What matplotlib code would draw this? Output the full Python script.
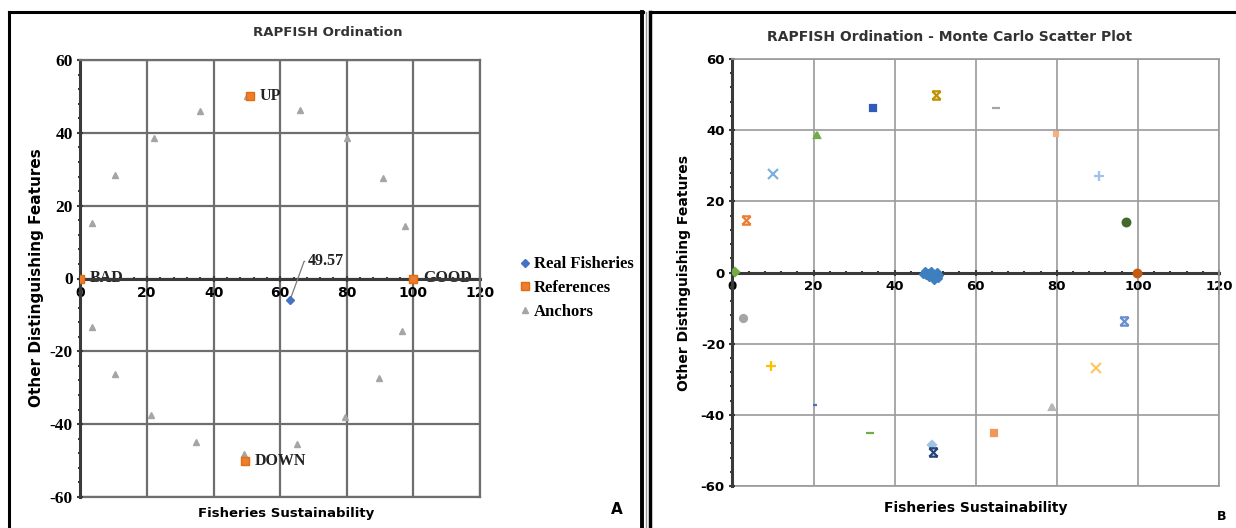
import matplotlib
matplotlib.use("Agg")
import matplotlib.pyplot as plt
from matplotlib.lines import Line2D
from matplotlib.path import Path
from matplotlib.ticker import MultipleLocator

plt.rcParams["axes.unicode_minus"] = False

# ---- Panel A data ----
anchor_x = [36, 66, 22, 80, 10.5, 91, 3.5, 97.5, 3.5, 96.7, 10.3, 89.7, 21.2, 79.5, 34.7, 65, 49.2, 0, 100, 50]
anchor_y = [46, 46.3, 38.5, 38.5, 28.3, 27.5, 15.3, 14.3, -13.4, -14.3, -26.3, -27.2, -37.6, -37.9, -45, -45.5, -48.3, 0, 0, 50]
ref_x = [0, 100, 51, 49.5]
ref_y = [0, 0, 50, -50]
ref_labels = ["BAD", "GOOD", "UP", "DOWN"]
real_x = [63]
real_y = [-5.8]
real_label = "49.57"

# ---- Panel B data (Monte Carlo scatter) ----
cluster_x = [47, 47.8, 48.5, 49, 49.5, 50, 50.5, 51, 48.2, 49.8, 47.5, 50.6]
cluster_y = [-0.5, -0.8, -1.2, 0.3, -0.4, -1.5, 0.2, -0.8, 0, -2, 0.4, -1.6]
mc_x = [0.7, 3.3, 10.0, 20.8, 34.7, 50.3, 65.1, 79.7, 90.4, 97.0, 99.8,
        96.5, 89.7, 78.9, 64.5, 49.1, 49.5, 34.0, 20.3, 9.4, 2.7]
mc_y = [0.2, 14.8, 27.7, 38.6, 46.3, 49.9, 46.3, 38.8, 27.2, 14.3, 0.0,
        -13.6, -26.7, -37.8, -45.0, -48.5, -50.4, -45.0, -37.1, -26.2, -12.8]
mc_colors = ["#70AD47", "#ED7D31", "#7CAFDD", "#70AD47", "#2F5CB8", "#BF9000",
             "#A5A5A5", "#F4B183", "#9DC3E6", "#43682B", "#C55A11",
             "#698ED0", "#FFC866", "#B7B7B7", "#F1975A", "#9DC3E6", "#264478",
             "#70AD47", "#4472C4", "#FFC000", "#A5A5A5"]
mc_markers = ["D", "hour", "x", "^", "s", "hour", "_", "s", "+", "o", "o",
              "hour", "x", "^", "s", "D", "hour", "_", "_", "+", "o"]
mc_sizes = [4, 6, 6.5, 5, 5, 6, 6, 2.5, 6.5, 5.5, 5.5, 6, 7, 4, 5, 4, 6, 6, 3.5, 7, 5]

xticks = [0, 20, 40, 60, 80, 100, 120]
yticks = [-60, -40, -20, 0, 20, 40, 60]

# hourglass-like marker (Excel "star" at small size)
hourglass = Path([(-1, -1), (1, 1), (-1, 1), (1, -1), (-1, 1), (1, 1), (-1, -1), (1, -1)],
                 [Path.MOVETO, Path.LINETO, Path.MOVETO, Path.LINETO,
                  Path.MOVETO, Path.LINETO, Path.MOVETO, Path.LINETO])

W, H = 1236, 528
fig = plt.figure(figsize=(W / 100, H / 100), dpi=100)


def fx(px):
    return px / W


def fy(py):
    return 1 - py / H


def style_axes(ax, grid_col, grid_lw, yfont, yfs, xfont, xfs):
    ax.set_xlim(0, 120)
    ax.set_ylim(-60, 60)
    ax.set_xticks(xticks)
    ax.set_yticks(yticks)
    ax.xaxis.set_minor_locator(MultipleLocator(4))
    ax.yaxis.set_minor_locator(MultipleLocator(4))
    ax.grid(True, which="major", color=grid_col, lw=grid_lw, zorder=0)
    ax.set_axisbelow(True)
    ax.spines["bottom"].set_position(("data", 0))
    for s in ["bottom", "left"]:
        ax.spines[s].set_color("#3a3a3a")
        ax.spines[s].set_linewidth(2.2)
        ax.spines[s].set_zorder(2)
    for s in ["top", "right"]:
        ax.spines[s].set_color(grid_col)
        ax.spines[s].set_linewidth(grid_lw)
    ax.axhline(-60, color=grid_col, lw=grid_lw, clip_on=False, zorder=0)
    ax.tick_params(which="major", direction="inout", length=5, width=1.5, color="#3a3a3a", pad=3)
    ax.tick_params(which="minor", direction="inout", length=3, width=1.5, color="#3a3a3a")
    for lab in ax.get_yticklabels():
        lab.set_fontfamily(yfont)
        lab.set_fontweight("bold")
        lab.set_fontsize(yfs)
    for lab in ax.get_xticklabels():
        lab.set_fontfamily(xfont)
        lab.set_fontweight("bold")
        lab.set_fontsize(xfs)


# ---------------- Panel A ----------------
axA = fig.add_axes([fx(80.4), fy(497), fx(480 - 80.4), (497 - 60) / H])
style_axes(axA, "#6e6e6e", 1.6, "Liberation Serif", 12.5, "DejaVu Sans", 10)

axA.plot(anchor_x, anchor_y, ls="none", marker="^", ms=5, color="#A5A5A5", label="Anchors", zorder=3)
axA.plot(ref_x, ref_y, ls="none", marker="s", ms=6, mfc="#ED7D31", mec="#E46C0A", label="References", zorder=4)
axA.plot(real_x, real_y, ls="none", marker="D", ms=4, color="#4472C4", label="Real Fisheries", zorder=5)

for x, y, t in zip(ref_x, ref_y, ref_labels):
    axA.annotate(t, (x, y), xytext=(7, 0), textcoords="offset points", ha="left", va="center",
                 fontsize=11.5, fontfamily="Liberation Serif", fontweight="bold", color="#222222", zorder=1)
axA.annotate(real_label, (real_x[0], real_y[0]), xytext=(68.2, 4.7), ha="left", va="center",
             fontsize=11.5, fontfamily="Liberation Serif", fontweight="bold", color="#222222",
             arrowprops=dict(arrowstyle="-", color="#7a7a7a", lw=0.9, shrinkA=0, shrinkB=2,
                             connectionstyle="angle,angleA=180,angleB=70,rad=0"))

hA, lA = axA.get_legend_handles_labels()
order = [2, 1, 0]
axA.legend([hA[i] for i in order], [lA[i] for i in order], loc="center left",
           bbox_to_anchor=(fx(512), fy(288)), bbox_transform=fig.transFigure, frameon=False,
           handlelength=0.5, handletextpad=0.3, labelspacing=0.45, borderpad=0,
           prop={"family": "Liberation Serif", "weight": "bold", "size": 12})

fig.text(fx(328), fy(32), "RAPFISH Ordination", ha="center", va="center", fontsize=9.5, fontweight="bold", color="#333333")
fig.text(fx(286), fy(514), "Fisheries Sustainability", ha="center", va="center", fontsize=9.5, fontweight="bold")
fig.text(fx(37), fy(278), "Other Distinguishing Features", ha="center", va="center", rotation=90, fontsize=11, fontweight="bold")
fig.text(fx(617), fy(510), "A", ha="center", va="center", fontsize=11, fontweight="bold")

# ---------------- Panel B ----------------
axB = fig.add_axes([fx(732.4), fy(486), fx(1219 - 732.4), (486 - 59) / H])
style_axes(axB, "#9a9a9a", 1.2, "DejaVu Sans", 9.5, "DejaVu Sans", 9.5)

axB.plot(cluster_x, cluster_y, ls="none", marker="D", ms=4.5, color="#3D7FBF", zorder=4)
for x, y, c, m, s in zip(mc_x, mc_y, mc_colors, mc_markers, mc_sizes):
    mk = hourglass if m == "hour" else m
    axB.plot([x], [y], ls="none", marker=mk, ms=s, color=c, mew=1.6, zorder=4)

fig.text(fx(950), fy(37), "RAPFISH Ordination - Monte Carlo Scatter Plot", ha="center", va="center",
         fontsize=10, fontweight="bold", color="#333333")
fig.text(fx(976), fy(508), "Fisheries Sustainability", ha="center", va="center", fontsize=10, fontweight="bold")
fig.text(fx(684), fy(273), "Other Distinguishing Features", ha="center", va="center", rotation=90, fontsize=10, fontweight="bold")
fig.text(fx(1222), fy(516), "B", ha="center", va="center", fontsize=9, fontweight="bold")

# ---------------- panel frames ----------------
frame = [((9, 12), (643, 12), 2.2, "black"), ((9, 12), (9, 528), 2.2, "black"),
         ((642, 12), (642, 528), 2.8, "black"), ((646, 12), (646, 528), 1.0, "#999999"),
         ((650, 12), (650, 528), 2.5, "black"), ((650, 12), (1236, 12), 2.2, "black")]
for (x0, y0), (x1, y1), lw, col in frame:
    fig.add_artist(Line2D([fx(x0), fx(x1)], [fy(y0), fy(y1)], color=col, lw=lw))

fig.savefig("out.png", dpi=100)
